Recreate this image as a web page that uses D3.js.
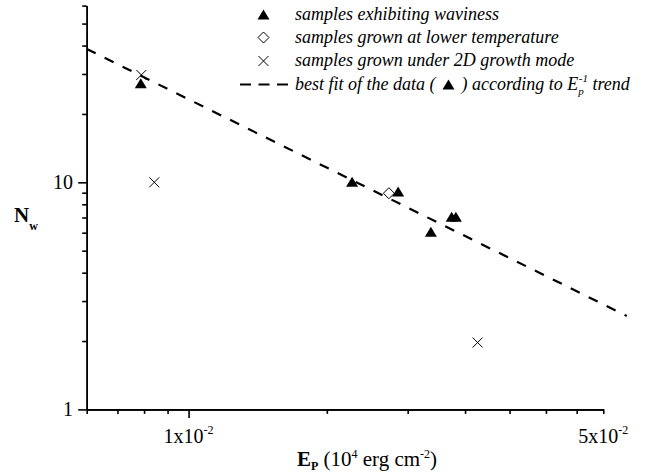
<!DOCTYPE html>
<html><head><meta charset="utf-8">
<script src="https://cdn.jsdelivr.net/npm/d3@7"></script>
<style>body{margin:0;background:#fff}svg{display:block}
svg text{font-family:"Liberation Serif","Times New Roman",Times,serif;}</style>
</head><body>
<svg id="c" width="652" height="474"></svg>
<script>
// ---- data ----
const wavyE = [0.00787, 0.0227, 0.0286, 0.0374, 0.0382, 0.0337];
const wavyN = [27.3, 10.05, 9.1, 7.05, 7.05, 6.05];
const lowTempE = [0.0273];
const lowTempN = [8.95];
const twoDE = [0.00789, 0.00842, 0.0426];
const twoDN = [29.7, 10.0, 1.97];
const fitE = [0.006, 0.09];
const fitN = [38.67, 2.578];
const xDomain = [0.006, 0.08];
const yDomain = [1, 60];
const xMinorTicks = [0.006, 0.007, 0.008, 0.009, 0.02, 0.03, 0.04, 0.05, 0.06, 0.07, 0.08];
const xMajorTicks = [0.01];
const xLabelValues = [0.01, 0.08];
const xLabelMant = ["1x10", "5x10"];
const xLabelExp = ["-2", "-2"];
const yMinorTicks = [2, 3, 4, 5, 6, 7, 8, 9, 20, 30, 40, 50, 60];
const yMajorTicks = [1, 10];
const yLabels = ["1", "10"];
const legendLabels = [
  "samples exhibiting waviness",
  "samples grown at lower temperature",
  "samples grown under 2D growth mode"
];

// ---- drawing ----
const svg = d3.select("#c");
const L = 86.7, R = 603.3, T = 5.6, B = 409.4;
const x = d3.scaleLog().domain(xDomain).range([L, R]);
const y = d3.scaleLog().domain(yDomain).range([B, T]);

const triPath = "M0,-5L6,5L-6,5Z";
const diaPath = "M0,-5.5L5.5,0L0,5.5L-5.5,0Z";
const crossPath = "M-5,-5L5,5M-5,5L5,-5";

// axes
const gx = svg.append("g").attr("transform", `translate(0,${B})`);
gx.call(d3.axisBottom(x).tickValues(xMinorTicks).tickSize(4.5).tickSizeOuter(0).tickFormat(""));
gx.call(g => g.append("g").call(d3.axisBottom(x).tickValues(xMajorTicks).tickSize(8.5).tickSizeOuter(0).tickFormat("")));
const gy = svg.append("g").attr("transform", `translate(${L},0)`);
gy.call(d3.axisLeft(y).tickValues(yMinorTicks).tickSize(4.5).tickSizeOuter(0).tickFormat(""));
gy.call(g => g.append("g").call(d3.axisLeft(y).tickValues(yMajorTicks).tickSize(8.5).tickSizeOuter(0).tickFormat("")));
svg.selectAll(".domain, .tick line").attr("stroke", "#000").attr("stroke-width", 1.6);

// x tick labels
xLabelValues.forEach((v, i) => {
  const t = svg.append("text").attr("x", x(v)).attr("y", 443)
    .attr("text-anchor", "middle").attr("font-size", 20);
  t.append("tspan").text(xLabelMant[i]);
  t.append("tspan").attr("font-size", 12).attr("dy", -9).text(xLabelExp[i]);
});
// y tick labels
yMajorTicks.forEach((v, i) => {
  svg.append("text").attr("x", 73).attr("y", y(v)).attr("dy", "0.34em")
    .attr("text-anchor", "end").attr("font-size", 20).text(yLabels[i]);
});

// axis titles
const xt = svg.append("text").attr("x", 367).attr("y", 466).attr("text-anchor", "middle")
  .attr("font-size", 21);
xt.append("tspan").attr("font-weight", "bold").text("E");
xt.append("tspan").attr("font-weight", "bold").attr("font-size", 12).attr("dy", 4).text("P");
xt.append("tspan").attr("dy", -4).text(" (10");
xt.append("tspan").attr("font-size", 12).attr("dy", -8).text("4");
xt.append("tspan").attr("dy", 8).text(" erg cm");
xt.append("tspan").attr("font-size", 12).attr("dy", -8).text("-2");
xt.append("tspan").attr("dy", 8).text(")");

const yt = svg.append("text").attr("x", 14).attr("y", 221.5)
  .attr("font-size", 21).attr("font-weight", "bold");
yt.append("tspan").text("N");
yt.append("tspan").attr("font-size", 12).attr("dy", 8).text("w");

// fit line
const fitData = fitE.map((e, i) => [e, fitN[i]]);
svg.append("path").datum(fitData)
  .attr("d", d3.line().x(d => x(d[0])).y(d => y(d[1])))
  .attr("fill", "none").attr("stroke", "#000").attr("stroke-width", 2.2)
  .attr("stroke-dasharray", "10,10");

// points
svg.selectAll(".lt").data(lowTempE.map((e, i) => [e, lowTempN[i]])).enter().append("path")
  .attr("d", diaPath).attr("transform", d => `translate(${x(d[0])},${y(d[1])})`)
  .attr("fill", "#fff").attr("stroke", "#000").attr("stroke-width", 1);
svg.selectAll(".wv").data(wavyE.map((e, i) => [e, wavyN[i]])).enter().append("path")
  .attr("d", triPath).attr("transform", d => `translate(${x(d[0])},${y(d[1])})`)
  .attr("fill", "#000");
svg.selectAll(".td").data(twoDE.map((e, i) => [e, twoDN[i]])).enter().append("path")
  .attr("d", crossPath).attr("transform", d => `translate(${x(d[0])},${y(d[1])})`)
  .attr("fill", "none").attr("stroke", "#000").attr("stroke-width", 1);

// legend
const lgX = 263.5, txX = 295, rowY = [19.5, 42.5, 66, 89.5];
const lg = svg.append("g").attr("font-size", 18).attr("font-style", "italic");
lg.append("path").attr("d", triPath).attr("transform", `translate(${lgX},${rowY[0] - 5})`).attr("fill", "#000");
lg.append("path").attr("d", diaPath).attr("transform", `translate(${lgX},${rowY[1] - 5})`)
  .attr("fill", "#fff").attr("stroke", "#000").attr("stroke-width", 1);
lg.append("path").attr("d", crossPath).attr("transform", `translate(${lgX},${rowY[2] - 5})`)
  .attr("fill", "none").attr("stroke", "#000").attr("stroke-width", 1);
lg.append("line").attr("x1", 240).attr("x2", 290).attr("y1", rowY[3] - 5).attr("y2", rowY[3] - 5)
  .attr("stroke", "#000").attr("stroke-width", 2.2).attr("stroke-dasharray", "11,7.5");
legendLabels.forEach((s, i) => lg.append("text").attr("x", txX).attr("y", rowY[i]).text(s));
const t1 = lg.append("text").attr("x", txX).attr("y", rowY[3]).text("best fit of the data  (");
const w1 = t1.node().getComputedTextLength();
const triX = txX + w1 + 13;
lg.append("path").attr("d", triPath).attr("transform", `translate(${triX},${rowY[3] - 5})`).attr("fill", "#000");
const t2 = lg.append("text").attr("x", triX + 13).attr("y", rowY[3]);
t2.append("tspan").text(") according to E");
t2.append("tspan").attr("font-size", 11).attr("dy", 5).text("p");
t2.append("tspan").attr("font-size", 11).attr("dx", -5).attr("dy", -13).text("-1");
t2.append("tspan").attr("dy", 8).text(" trend");
</script>
</body></html>
